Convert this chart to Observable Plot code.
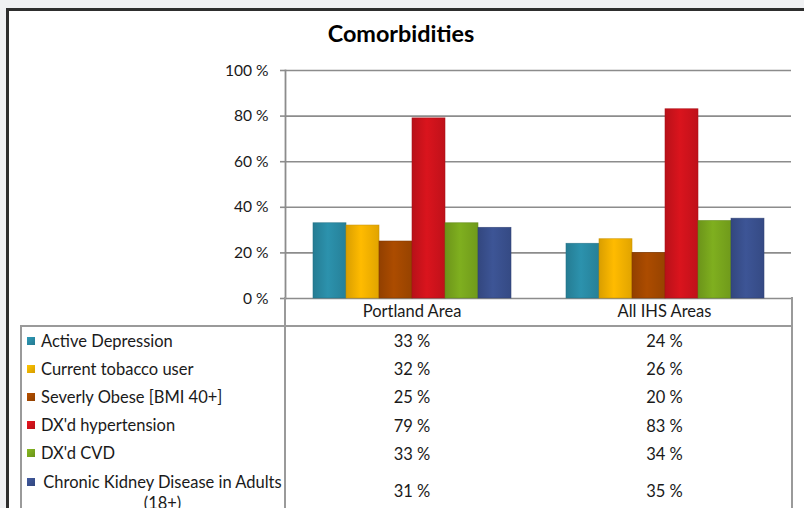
<!DOCTYPE html>
<html>
<head>
<meta charset="utf-8">
<script src="https://cdn.jsdelivr.net/npm/d3@7"></script>
<script src="https://cdn.jsdelivr.net/npm/@observablehq/plot@0.6"></script>
<style>
  html, body { margin: 0; padding: 0; background: #f0f1f3; overflow: hidden; }
  body { width: 804px; height: 508px; position: relative; font-family: Lato, "Open Sans", sans-serif; color: #1a1a1a; }
  #frame { position: absolute; left: 6px; top: 8px; width: 900px; height: 700px; border: 3px solid #2e2e2e; background: #fff; box-sizing: border-box; }
  #wrap { position: absolute; left: 0; top: 0; width: 804px; }
  #title { height: 50px; box-sizing: border-box; padding-top: 20px; line-height: 26px; text-align: center; font-weight: bold; font-size: 23.4px; color: #000; padding-right: 2px; }
  #chart svg { display: block; overflow: visible; }
  #tbl { position: absolute; left: 20px; top: 297px; border-collapse: collapse; table-layout: fixed; width: 771px; font-size: 16.5px; }
  #tbl td { padding: 0; }
  #tbl tr.h td { height: 28px; text-align: center; border-bottom: 2px solid #9a9a9a; }
  #tbl tr.h td.c1 { border-left: 2px solid #9a9a9a; }
  #tbl tr.h td.c2 { border-right: 2px solid #9a9a9a; }
  #tbl tr.r td { height: 28.2px; text-align: center; vertical-align: middle; }
  #tbl tr.r td.c0 { border-left: 2px solid #9a9a9a; text-align: left; }
  #tbl tr.r td.c1 { border-left: 2px solid #9a9a9a; }
  #tbl tr.r td.c2 { border-right: 2px solid #9a9a9a; }
  .lab { display: flex; align-items: flex-start; padding-left: 5px; }
  .sw { width: 8px; height: 8px; margin-right: 6px; margin-top: 6px; flex: none; }
  .txt { text-align: center; width: 244px; line-height: 21px; }
  tr.last td.c0 { padding-top: 4px !important; vertical-align: top; }
</style>
</head>
<body>
<div id="frame"></div>
<div id="wrap">
  <div id="title">Comorbidities</div>
  <div id="chart"></div>
</div>
<table id="tbl"></table>
<script>
const areas = ["Portland Area", "All IHS Areas"];
const comorbidities = ["Active Depression", "Current tobacco user", "Severly Obese [BMI 40+]", "DX'd hypertension", "DX'd CVD", "Chronic Kidney Disease in Adults (18+)"];
const portlandValues = [33, 32, 25, 79, 33, 31];
const allIHSValues = [24, 26, 20, 83, 34, 35];
const seriesColors = ["#2a8ca6", "#f6b300", "#a54900", "#d1131c", "#7aa81e", "#3a5190"];
const yTicks = [0, 20, 40, 60, 80, 100];

const valuesByArea = [portlandValues, allIHSValues];
const data = [];
areas.forEach((a, ai) => comorbidities.forEach((c, ci) => data.push({area: a, comorbidity: c, value: valuesByArea[ai][ci], ci})));

const plot = Plot.plot({
  width: 804,
  height: 260,
  marginLeft: 284,
  marginRight: 13,
  marginTop: 20,
  marginBottom: 12,
  style: {fontFamily: "Lato, 'Open Sans', sans-serif", fontSize: "16px", color: "#1a1a1a", background: "transparent"},
  fx: {domain: areas, padding: 0, axis: null},
  x: {domain: comorbidities, paddingInner: 0, paddingOuter: 0.75, axis: null},
  y: {domain: [0, 100], label: null},
  marks: [
    Plot.gridY(yTicks, {stroke: "#8c8c8c", strokeOpacity: 1, strokeWidth: 1.6}),
    Plot.barY(data, {fx: "area", x: "comorbidity", y: "value", fill: d => `url(#grad${d.ci})`, stroke: d => d3.color(seriesColors[d.ci]).darker(0.6).formatHex(), strokeWidth: 0.7, strokeOpacity: 0.8}),
    Plot.axisY(yTicks, {tickSize: 5, tickPadding: 12, tickFormat: d => d + " %", stroke: "#8c8c8c", strokeWidth: 1.6, fontSize: 15.6, label: null}),
    Plot.frame({anchor: "left", facetAnchor: "left", stroke: "#8c8c8c", strokeWidth: 1.8})
  ]
});

// gradient definitions for the bar fills
const ns = "http://www.w3.org/2000/svg";
const defs = document.createElementNS(ns, "defs");
seriesColors.forEach((c, i) => {
  const g = document.createElementNS(ns, "linearGradient");
  g.setAttribute("id", "grad" + i);
  g.setAttribute("x1", "0"); g.setAttribute("x2", "1"); g.setAttribute("y1", "0"); g.setAttribute("y2", "0");
  [[0, d3.color(c).darker(0.35)], [0.45, d3.color(c).brighter(0.12)], [1, d3.color(c).darker(0.25)]].forEach(([o, col]) => {
    const s = document.createElementNS(ns, "stop");
    s.setAttribute("offset", o);
    s.setAttribute("stop-color", col.formatHex());
    g.appendChild(s);
  });
  defs.appendChild(g);
});
plot.insertBefore(defs, plot.firstChild);
document.getElementById("chart").appendChild(plot);

// data table below the chart
const tbl = document.getElementById("tbl");
const cg = document.createElement("colgroup");
[264, 253, 254].forEach(w => { const col = document.createElement("col"); col.style.width = w + "px"; cg.appendChild(col); });
tbl.appendChild(cg);
const hr = document.createElement("tr"); hr.className = "h";
const h0 = document.createElement("td"); h0.className = "c0"; hr.appendChild(h0);
areas.forEach((a, i) => { const td = document.createElement("td"); td.className = "c" + (i + 1); td.textContent = a; hr.appendChild(td); });
tbl.appendChild(hr);
comorbidities.forEach((c, ci) => {
  const last = ci === comorbidities.length - 1;
  const tr = document.createElement("tr"); tr.className = "r" + (last ? " last" : "");
  const td0 = document.createElement("td"); td0.className = "c0";
  const lab = document.createElement("div"); lab.className = "lab";
  const sw = document.createElement("span"); sw.className = "sw";
  sw.style.background = `linear-gradient(135deg, ${d3.color(seriesColors[ci]).brighter(0.3).formatHex()}, ${d3.color(seriesColors[ci]).darker(0.4).formatHex()})`;
  const tx = document.createElement("span"); tx.className = "txt";
  if (last) {
    // allow the label to wrap only before its last word, as in the reference
    const k = c.lastIndexOf(" ");
    tx.textContent = c.slice(0, k).replace(/ /g, "\u00a0") + " " + c.slice(k + 1);
  } else {
    tx.textContent = c;
    tx.style.textAlign = "left";
  }
  lab.appendChild(sw); lab.appendChild(tx); td0.appendChild(lab); tr.appendChild(td0);
  valuesByArea.forEach((vals, ai) => {
    const td = document.createElement("td"); td.className = "c" + (ai + 1);
    td.textContent = vals[ci] + " %";
    tr.appendChild(td);
  });
  tbl.appendChild(tr);
});
</script>
</body>
</html>
